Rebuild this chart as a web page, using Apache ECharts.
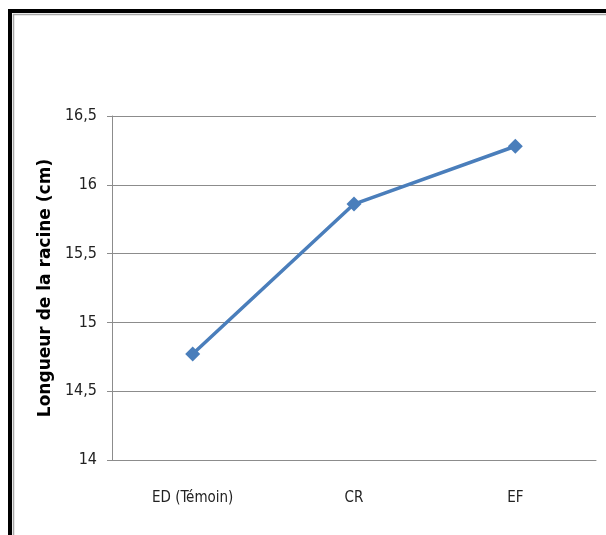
<!DOCTYPE html>
<html>
<head>
<meta charset="utf-8">
<script src="https://cdn.jsdelivr.net/npm/echarts@6/dist/echarts.min.js"></script>
<style>
  html, body { margin: 0; padding: 0; background: #ffffff; }
  #chart { width: 606px; height: 535px; }
</style>
</head>
<body>
<div id="chart"></div>
<script>
// Root length by treatment
const categories = ['ED (Témoin)', 'CR', 'EF'];
const rootLength = [14.77, 15.86, 16.28];
const yTicks = [14, 14.5, 15, 15.5, 16, 16.5];

const chart = echarts.init(document.getElementById('chart'), null, { renderer: 'canvas' });

const narrow = '"DejaVu Sans Condensed", "Liberation Sans Narrow", sans-serif';

chart.setOption({
  backgroundColor: '#ffffff',
  animation: false,
  graphic: [
    // frame around the chart area
    { type: 'rect', shape: { x: 10, y: 11, width: 620, height: 560 },
      style: { fill: 'none', stroke: '#000000', lineWidth: 4 }, silent: true },
    { type: 'rect', shape: { x: 13.5, y: 14.5, width: 620, height: 560 },
      style: { fill: 'none', stroke: '#a8a8a8', lineWidth: 1.5 }, silent: true }
  ],
  grid: { left: 112, right: 10, top: 116, bottom: 75 },
  xAxis: {
    type: 'category',
    data: categories,
    boundaryGap: true,
    axisLine: { show: true, lineStyle: { color: '#8c8c8c', width: 1 } },
    axisTick: { show: false },
    axisLabel: { color: '#222', fontFamily: narrow, fontSize: 15, margin: 31 }
  },
  yAxis: {
    type: 'value',
    min: yTicks[0],
    max: yTicks[yTicks.length - 1],
    interval: 0.5,
    name: 'Longueur de la racine (cm)',
    nameLocation: 'middle',
    nameGap: 58,
    nameRotate: 90,
    nameTextStyle: { color: '#000', fontFamily: '"DejaVu Sans", Verdana, sans-serif', fontWeight: 'bold', fontSize: 17 },
    axisLine: { show: true, lineStyle: { color: '#8c8c8c', width: 1 } },
    axisTick: { show: true, length: 5, lineStyle: { color: '#8c8c8c' } },
    splitLine: { show: true, lineStyle: { color: '#8c8c8c', width: 1 } },
    axisLabel: {
      color: '#222', fontFamily: narrow, fontSize: 16, margin: 15,
      formatter: v => String(v).replace('.', ',')
    }
  },
  series: [{
    type: 'line',
    data: rootLength,
    symbol: 'diamond',
    symbolSize: 15,
    lineStyle: { color: '#4a7ebb', width: 3.5 },
    itemStyle: { color: '#4a7ebb' }
  }]
});
</script>
</body>
</html>
